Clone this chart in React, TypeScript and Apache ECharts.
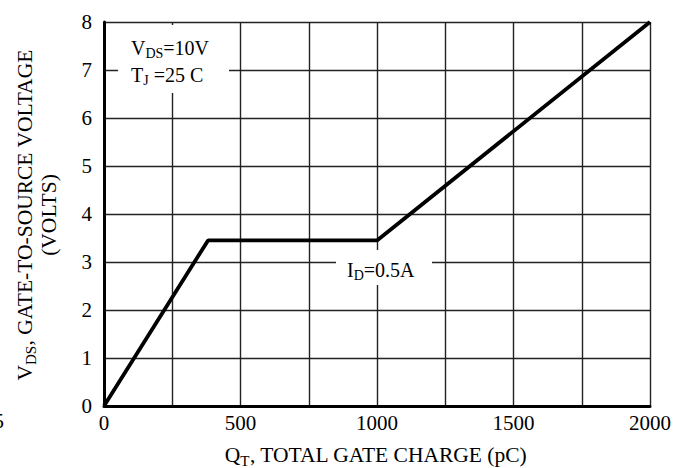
import React, { useEffect, useRef } from "react";
import * as echarts from "echarts";

const chargePC = [0, 381, 1000, 2000];
const gateVolts = [0, 3.45, 3.45, 8];
const xTicks = [0, 500, 1000, 1500, 2000];
const yTicks = [0, 1, 2, 3, 4, 5, 6, 7, 8];

const FONT = "'Liberation Serif', 'Times New Roman', serif";

export default function App() {
  const ref = useRef<HTMLDivElement>(null);
  useEffect(() => {
    if (!ref.current) return;
    const chart = echarts.init(ref.current, null, { renderer: "svg" });
    const rich = {
      n: { fontFamily: FONT, fontSize: 20, color: "#000" },
      s: { fontFamily: FONT, fontSize: 14, color: "#000", verticalAlign: "bottom", padding: [0, 0, -2, 0] },
    };
    const richT = {
      n: { fontFamily: FONT, fontSize: 21.5, color: "#000" },
      s: { fontFamily: FONT, fontSize: 15, color: "#000", verticalAlign: "bottom", padding: [0, 0, -2, 0] },
    };
    chart.setOption({
      animation: false,
      backgroundColor: "#fff",
      grid: { left: 104, right: 36, top: 22, bottom: 62 },
      xAxis: {
        type: "value",
        min: 0,
        max: 2000,
        interval: 250,
        axisLine: { show: true, lineStyle: { color: "#000", width: 3 } },
        axisTick: { show: false },
        axisLabel: {
          margin: 6,
          fontFamily: FONT,
          fontSize: 21,
          color: "#000",
          formatter: (v: number) => (xTicks.includes(v) ? String(v) : ""),
        },
        splitLine: { show: true, lineStyle: { color: "#222", width: 1.4 } },
      },
      yAxis: {
        type: "value",
        min: 0,
        max: 8,
        interval: 1,
        axisLine: { show: true, lineStyle: { color: "#000", width: 3 } },
        axisTick: { show: false },
        axisLabel: {
          margin: 12,
          fontFamily: FONT,
          fontSize: 21,
          color: "#000",
          formatter: (v: number) => (yTicks.includes(v) ? String(v) : ""),
        },
        splitLine: { show: true, lineStyle: { color: "#222", width: 1.4 } },
      },
      series: [
        {
          type: "line",
          data: chargePC.map((x, i) => [x, gateVolts[i]]),
          symbol: "none",
          lineStyle: { color: "#000", width: 3.8 },
          z: 5,
        },
      ],
      graphic: [
        { type: "rect", z: 3, shape: { x: 118, y: 25, width: 111, height: 68 }, style: { fill: "#fff" } },
        {
          type: "text",
          z: 4,
          x: 131,
          y: 48,
          style: { text: "{n|V}{s|DS}{n|=10V}", rich, verticalAlign: "middle", textAlign: "left" },
        },
        {
          type: "text",
          z: 4,
          x: 131,
          y: 75,
          style: { text: "{n|T}{s|J}{n| =25 C}", rich, verticalAlign: "middle", textAlign: "left" },
        },
        { type: "rect", z: 3, shape: { x: 336, y: 250, width: 96, height: 35 }, style: { fill: "#fff" } },
        {
          type: "text",
          z: 4,
          x: 347,
          y: 270,
          style: { text: "{n|I}{s|D}{n|=0.5A}", rich, verticalAlign: "middle", textAlign: "left" },
        },
        {
          type: "text",
          z: 4,
          x: 376,
          y: 455,
          style: { text: "{n|Q}{s|T}{n|, TOTAL GATE CHARGE (pC)}", rich: richT, verticalAlign: "middle", textAlign: "center" },
        },
        {
          type: "text",
          z: 4,
          x: 25,
          y: 215,
          rotation: Math.PI / 2,
          style: { text: "{n|V}{s|DS}{n|, GATE-TO-SOURCE VOLTAGE}", rich: richT, verticalAlign: "middle", textAlign: "center" },
        },
        {
          type: "text",
          z: 4,
          x: 49,
          y: 215,
          rotation: Math.PI / 2,
          style: { text: "(VOLTS)", font: `21.5px ${FONT}`, fill: "#000", verticalAlign: "middle", textAlign: "center" },
        },
        {
          type: "text",
          z: 4,
          x: 4,
          y: 421,
          style: { text: "5", font: `21px ${FONT}`, fill: "#000", verticalAlign: "middle", textAlign: "right" },
        },
      ],
    });
    return () => chart.dispose();
  }, []);
  return (
    <div
      ref={ref}
      style={{ position: "fixed", left: 0, top: 0, width: 686, height: 468 }}
    />
  );
}
